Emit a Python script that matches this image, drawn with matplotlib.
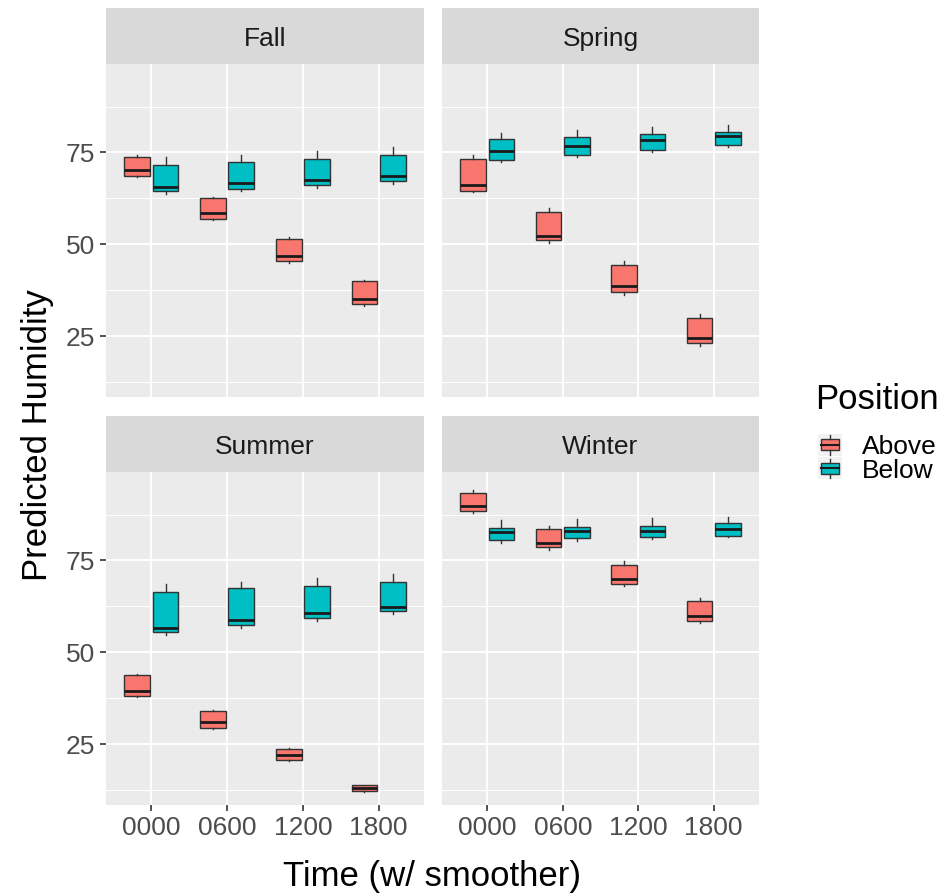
import matplotlib.pyplot as plt
from matplotlib.patches import Rectangle
from matplotlib.lines import Line2D
from matplotlib.legend_handler import HandlerBase

plt.rcParams['font.family'] = ['Liberation Sans', 'DejaVu Sans']

# Data: each box is (whisker low, q1, median, q3, whisker high)
times = ['0000', '0600', '1200', '1800']
seasons = ['Fall', 'Spring', 'Summer', 'Winter']
positions = ['Above', 'Below']
colors = {'Above': '#F8766D', 'Below': '#00BFC4'}

fall_above = [(68.3, 68.7, 70.1, 73.9, 74.4), (56.6, 57.0, 58.5, 62.5, 62.9),
              (45.0, 45.4, 46.8, 51.5, 51.9), (33.3, 33.7, 35.0, 40.0, 40.4)]
fall_below = [(63.7, 64.4, 65.6, 71.6, 73.7), (64.6, 65.1, 66.7, 72.5, 74.3),
              (65.4, 66.1, 67.4, 73.2, 75.3), (66.5, 67.1, 68.5, 74.2, 76.4)]
spring_above = [(64.2, 64.6, 66.2, 73.2, 74.3), (50.3, 51.2, 52.3, 58.8, 59.8),
                (36.2, 36.9, 38.5, 44.4, 45.5), (22.3, 23.0, 24.4, 30.0, 31.0)]
spring_below = [(72.4, 73.0, 75.5, 78.7, 80.3), (73.7, 74.4, 76.8, 79.3, 81.2),
                (75.1, 75.7, 78.3, 79.9, 81.9), (76.4, 77.0, 79.4, 80.6, 82.6)]
summer_above = [(37.8, 38.1, 39.5, 43.8, 44.1), (29.0, 29.3, 30.9, 33.9, 34.2),
                (20.5, 20.7, 22.1, 23.6, 23.8), (12.0, 12.1, 12.9, 13.8, 13.9)]
summer_below = [(54.7, 55.4, 56.6, 66.5, 68.7), (56.6, 57.3, 58.7, 67.4, 69.1),
                (58.5, 59.4, 60.7, 68.1, 70.2), (60.5, 61.2, 62.3, 69.1, 71.2)]
winter_above = [(87.8, 88.6, 89.9, 93.4, 94.3), (77.9, 78.6, 79.8, 83.7, 84.4),
                (68.0, 68.7, 70.0, 73.8, 74.8), (58.0, 58.6, 60.0, 63.9, 64.9)]
winter_below = [(79.8, 80.6, 82.7, 83.9, 85.9), (80.2, 81.1, 82.9, 84.2, 86.2),
                (80.9, 81.5, 83.0, 84.4, 86.5), (81.3, 81.8, 83.6, 85.1, 86.9)]

data = {
    'Fall': {'Above': fall_above, 'Below': fall_below},
    'Spring': {'Above': spring_above, 'Below': spring_below},
    'Summer': {'Above': summer_above, 'Below': summer_below},
    'Winter': {'Above': winter_above, 'Below': winter_below},
}

y_ticks = [25, 50, 75]
y_minor = [12.5, 37.5, 62.5, 87.5]

W, H = 943, 896
fig = plt.figure(figsize=(W / 100, H / 100), dpi=100)

# panel pixel boxes (x0, x1) and (y_top, y_bottom)
cols = [(106, 424), (442, 759)]
rows = [(64, 397), (472, 805)]
strip_h = 56

dodge = 0.1875
box_w = 0.34
edge = '#333333'

for i, season in enumerate(seasons):
    r, c = divmod(i, 2)
    x0, x1 = cols[c]
    yt, yb = rows[r]
    ax = fig.add_axes([x0 / W, 1 - yb / H, (x1 - x0) / W, (yb - yt) / H])
    ax.set_facecolor('#EBEBEB')
    for sp in ax.spines.values():
        sp.set_visible(False)

    for pos, off in zip(positions, [-dodge, dodge]):
        stats = []
        for lo, q1, med, q3, hi in data[season][pos]:
            stats.append({'whislo': lo, 'q1': q1, 'med': med, 'q3': q3,
                          'whishi': hi, 'fliers': []})
        xs = [k + off for k in range(len(times))]
        ax.bxp(stats, positions=xs, widths=box_w, patch_artist=True,
               showcaps=False, showfliers=False, manage_ticks=False,
               boxprops=dict(facecolor=colors[pos], edgecolor=edge, linewidth=1.0),
               medianprops=dict(color='#1A1A1A', linewidth=2.0),
               whiskerprops=dict(color=edge, linewidth=1.0), zorder=3)

    ax.set_xlim(-0.6, len(times) - 0.4)
    ax.set_ylim(8.4, 99.1)
    ax.set_yticks(y_ticks)
    ax.set_yticks(y_minor, minor=True)
    ax.set_xticks(range(len(times)))
    ax.grid(True, which='major', color='white', linewidth=1.4, zorder=0)
    ax.grid(True, which='minor', axis='y', color='white', linewidth=0.7, zorder=0)
    ax.set_axisbelow(True)
    ax.tick_params(which='minor', length=0)
    ax.tick_params(which='major', length=4, width=1.2, color='#333333',
                   labelsize=19, labelcolor='#4D4D4D', pad=4)
    if c == 0:
        ax.set_yticklabels([str(t) for t in y_ticks])
    else:
        ax.tick_params(axis='y', length=0, labelleft=False)
    if r == 1:
        ax.set_xticklabels(times)
    else:
        ax.tick_params(axis='x', length=0, labelbottom=False)

    sax = fig.add_axes([x0 / W, 1 - yt / H, (x1 - x0) / W, strip_h / H])
    sax.set_facecolor('#D9D9D9')
    sax.set_xticks([])
    sax.set_yticks([])
    for sp in sax.spines.values():
        sp.set_visible(False)
    sax.text(0.5, 0.44, season, ha='center', va='center', fontsize=19,
             color='#1A1A1A', transform=sax.transAxes)

fig.text(432 / W, 1 - 876 / H, 'Time (w/ smoother)', ha='center',
         va='center', fontsize=25)
fig.text(38 / W, 1 - 435 / H, 'Predicted Humidity', ha='center', va='center',
         rotation=90, fontsize=25)


class BoxKey(HandlerBase):
    def create_artists(self, legend, orig, xd, yd, width, height, fontsize, trans):
        fc = orig.get_facecolor()
        bg = Rectangle((-xd, -yd), width, height, facecolor='#F2F2F2',
                       edgecolor='none', transform=trans)
        bw = width * 0.75
        bx = -xd + (width - bw) / 2
        by = -yd + height * 0.25
        bh = height * 0.5
        box = Rectangle((bx, by), bw, bh, facecolor=fc, edgecolor=edge,
                        linewidth=1.0, transform=trans)
        cx = -xd + width / 2
        w1 = Line2D([cx, cx], [-yd + height * 0.05, by], color=edge, lw=1.0, transform=trans)
        w2 = Line2D([cx, cx], [by + bh, -yd + height * 0.95], color=edge, lw=1.0, transform=trans)
        med = Line2D([bx, bx + bw], [by + bh / 2] * 2, color='#1A1A1A', lw=1.5, transform=trans)
        return [bg, box, w1, w2, med]


# legend title drawn separately so the gap to the keys matches
fig.text(815 / W, 1 - 399 / H, 'Position', ha='left', va='center', fontsize=25)
handles = [Rectangle((0, 0), 1, 1, facecolor=colors[p]) for p in positions]
leg = fig.legend(handles, positions, loc='upper left',
                 bbox_to_anchor=(818 / W, 1 - 434 / H), frameon=False,
                 fontsize=19, handler_map={Rectangle: BoxKey()},
                 handlelength=0.9, handleheight=0.9, handletextpad=0.75,
                 labelspacing=-0.06, borderpad=0, borderaxespad=0)

fig.savefig('out.png', dpi=100)
